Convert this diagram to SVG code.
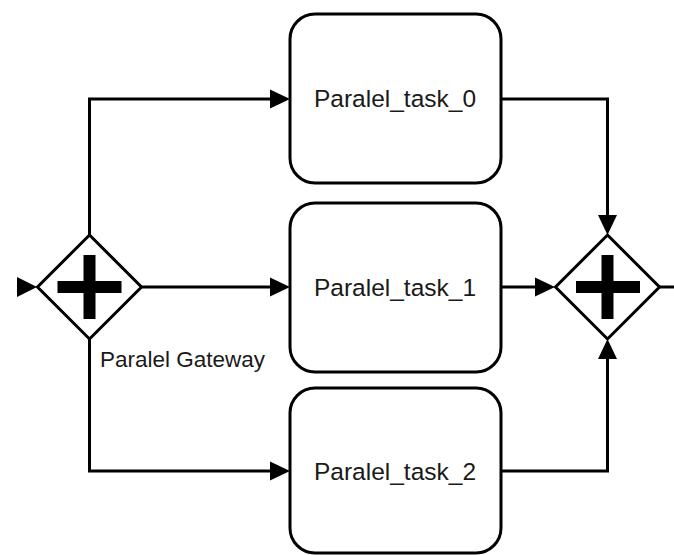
<svg xmlns="http://www.w3.org/2000/svg" width="674" height="555" viewBox="0 0 674 555">
  <style>
    .task { fill: #ffffff; stroke: #000000; stroke-width: 3; }
    .gw { fill: #ffffff; stroke: #000000; stroke-width: 3; }
    .plus { fill: #000000; }
    .edge { fill: none; stroke: #000000; stroke-width: 3; stroke-linejoin: miter; }
    .lbl { font-family: "Liberation Sans", Arial, sans-serif; font-size: 24.5px; fill: #1a1a1a; text-anchor: middle; }
    .gwlbl { font-family: "Liberation Sans", Arial, sans-serif; font-size: 22.5px; fill: #1a1a1a; }
  </style>
  <defs>
    <marker id="arrow" viewBox="0 0 20 20" refX="0" refY="10" markerWidth="20" markerHeight="20" markerUnits="userSpaceOnUse" orient="auto">
      <path d="M0,0.5 L20,10 L0,19.5 Z" fill="#000000"/>
    </marker>
  </defs>

  <g id="connectors">
    <polygon points="17,277 37,287 17,297" fill="#000000"/>
    <path class="edge" d="M89.5,235 V99 H270" marker-end="url(#arrow)"/>
    <path class="edge" d="M142,287 H270" marker-end="url(#arrow)"/>
    <path class="edge" d="M89.5,339 V471 H270" marker-end="url(#arrow)"/>
    <path class="edge" d="M501,99 H607.5 V215" marker-end="url(#arrow)"/>
    <path class="edge" d="M501,287 H535" marker-end="url(#arrow)"/>
    <path class="edge" d="M501,471 H607.5 V359" marker-end="url(#arrow)"/>
    <path class="edge" d="M660,287 H674"/>
  </g>

  <g id="gateway_split">
    <polygon class="gw" points="89.5,235 141.5,287 89.5,339 37.5,287"/>
    <rect class="plus" x="57.5" y="281" width="64" height="12"/>
    <rect class="plus" x="83.5" y="255" width="12" height="64"/>
    <text class="gwlbl" x="100" y="367">Paralel Gateway</text>
  </g>

  <g id="task_0">
    <rect class="task" x="290" y="14" width="211" height="169" rx="25" ry="25"/>
    <text class="lbl" x="395" y="107">Paralel_task_0</text>
  </g>

  <g id="task_1">
    <rect class="task" x="290" y="203" width="211" height="169" rx="25" ry="25"/>
    <text class="lbl" x="395" y="296">Paralel_task_1</text>
  </g>

  <g id="task_2">
    <rect class="task" x="290" y="388" width="211" height="165" rx="25" ry="25"/>
    <text class="lbl" x="395" y="480">Paralel_task_2</text>
  </g>

  <g id="gateway_join">
    <polygon class="gw" points="607.5,235 659.5,287 607.5,339 555.5,287"/>
    <rect class="plus" x="576" y="281" width="64" height="12"/>
    <rect class="plus" x="601.5" y="255" width="12" height="64"/>
  </g>
</svg>
